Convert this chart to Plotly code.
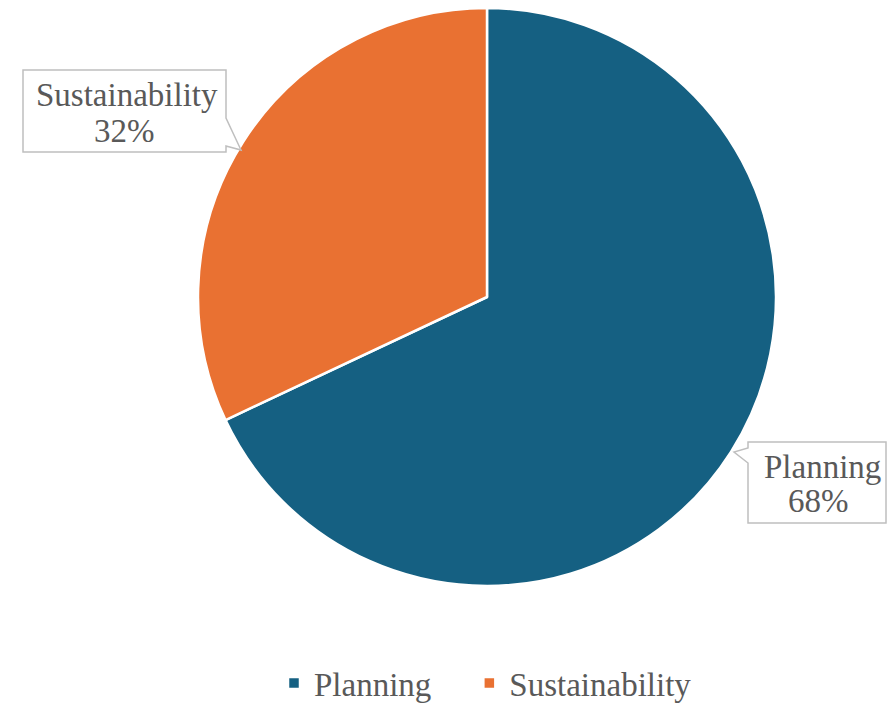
import plotly.graph_objects as go

categories = ["Planning", "Sustainability"]
values = [68, 32]
colors = ["#156082", "#E97132"]

W, H = 887, 704
def px(x): return x / W
def py(y): return 1 - y / H

FONT = "Liberation Serif"
TXT = "#595959"
FS = 33

# legend entries padded with non-breaking spaces to widen the gap between items
legend_labels = [c + "\u00a0" * 4 if i < len(categories) - 1 else c
                 for i, c in enumerate(categories)]

fig = go.Figure(go.Pie(
    labels=legend_labels, values=values, sort=False, direction="clockwise", rotation=0,
    marker=dict(colors=colors, line=dict(color="white", width=2.5)),
    textinfo="none", hoverinfo="percent", hovertext=categories,
    domain=dict(x=[px(180), px(794)], y=[py(586), py(8)]),
))

total = sum(values)
pct = [round(v / total * 100) for v in values]

def path(pts):
    return "M " + " L ".join(f"{px(x)},{py(y)}" for x, y in pts) + " Z"

# callout boxes (layout geometry)
sus_box = [(23, 70), (226, 70), (226, 118), (241, 150), (226, 146), (226, 152), (23, 152)]
plan_box = [(748, 442), (886, 442), (886, 523), (748, 523), (748, 463), (734, 452), (748, 448)]
shapes = [
    dict(type="path", xref="paper", yref="paper", path=path(sus_box),
         line=dict(color="#BFBFBF", width=1.5), fillcolor="white"),
    dict(type="path", xref="paper", yref="paper", path=path(plan_box),
         line=dict(color="#BFBFBF", width=1.5), fillcolor="white"),
]

def label(x, y, text):
    return dict(x=px(x), y=py(y), xref="paper", yref="paper", showarrow=False,
                xanchor="center", yanchor="middle", text=text,
                font=dict(family=FONT, size=FS, color=TXT))

annotations = [
    label(127, 95, categories[1]),
    label(124, 131, f"{pct[1]}%"),
    label(822, 467, categories[0]),
    label(818, 501, f"{pct[0]}%"),
]

fig.update_layout(
    width=W, height=H, margin=dict(l=0, r=0, t=0, b=0, autoexpand=False),
    paper_bgcolor="white", plot_bgcolor="white",
    shapes=shapes, annotations=annotations,
    showlegend=True,
    legend=dict(orientation="h", x=px(274), xanchor="left", y=py(683), yanchor="middle",
                font=dict(family=FONT, size=FS, color=TXT), itemwidth=30,
                traceorder="normal", bgcolor="rgba(0,0,0,0)"),
)

fig.write_html("out.html")
